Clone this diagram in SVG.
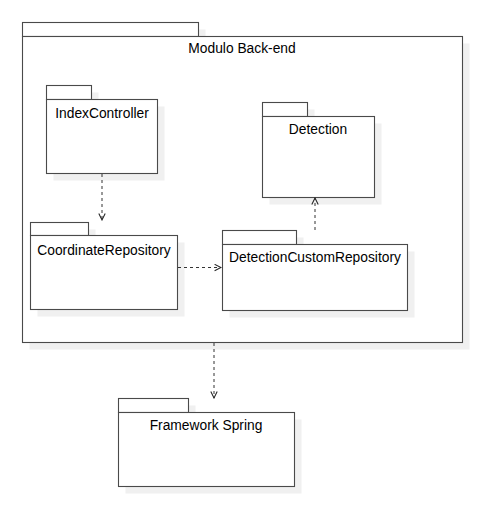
<svg xmlns="http://www.w3.org/2000/svg" width="494" height="512" viewBox="0 0 494 512">
<defs>
<marker id="open" viewBox="0 0 10 10" refX="9" refY="5" markerWidth="8" markerHeight="8" markerUnits="userSpaceOnUse" orient="auto">
<path d="M1,1 L9,5 L1,9" fill="none" stroke="#222" stroke-width="1.3"/>
</marker>
</defs>
<style>
.sh{fill:#f0f0f0;stroke:none}
.box{fill:#fff;stroke:#4a4a4a;stroke-width:1.1}
.t{font-family:"Liberation Sans",Arial,sans-serif;font-size:13.8px;fill:#000;text-anchor:middle}
.dep{fill:none;stroke:#333;stroke-width:1;stroke-dasharray:3 3;marker-end:url(#open)}
</style>
<rect width="494" height="512" fill="#fff"/>
<g id="modulo-backend">
<rect class="sh" x="29.5" y="29.5" width="176" height="14"/>
<rect class="sh" x="29.5" y="43.5" width="440" height="306"/>
<rect class="box" x="22.5" y="22.5" width="176" height="14"/>
<rect class="box" x="22.5" y="36.5" width="440" height="306"/>
<text class="t" x="242" y="53">Modulo Back-end</text>
</g>
<g id="index-controller">
<rect class="sh" x="53.5" y="92.5" width="45" height="14"/>
<rect class="sh" x="53.5" y="106.5" width="111" height="74"/>
<rect class="box" x="46.5" y="85.5" width="45" height="14"/>
<rect class="box" x="46.5" y="99.5" width="111" height="74"/>
<text class="t" x="102" y="118">IndexController</text>
</g>
<g id="detection">
<rect class="sh" x="269.5" y="109.5" width="45" height="14"/>
<rect class="sh" x="269.5" y="123.5" width="112" height="81"/>
<rect class="box" x="262.5" y="102.5" width="45" height="14"/>
<rect class="box" x="262.5" y="116.5" width="112" height="81"/>
<text class="t" x="318" y="134">Detection</text>
</g>
<g id="coordinate-repository">
<rect class="sh" x="37.5" y="229.5" width="58" height="14"/>
<rect class="sh" x="37.5" y="242.5" width="147" height="74"/>
<rect class="box" x="30.5" y="222.5" width="58" height="13"/>
<rect class="box" x="30.5" y="235.5" width="147" height="74"/>
<text class="t" x="104" y="255">CoordinateRepository</text>
</g>
<g id="detection-custom-repository">
<rect class="sh" x="229.5" y="237.5" width="74" height="14"/>
<rect class="sh" x="229.5" y="251.5" width="185" height="66"/>
<rect class="box" x="222.5" y="230.5" width="74" height="14"/>
<rect class="box" x="222.5" y="244.5" width="185" height="66"/>
<text class="t" x="315" y="262">DetectionCustomRepository</text>
</g>
<g id="framework-spring">
<rect class="sh" x="125.5" y="405.5" width="70" height="14"/>
<rect class="sh" x="125.5" y="419.5" width="176" height="74"/>
<rect class="box" x="118.5" y="398.5" width="70" height="14"/>
<rect class="box" x="118.5" y="412.5" width="176" height="74"/>
<text class="t" x="206" y="430">Framework Spring</text>
</g>
<g id="connectors">
<path class="dep" d="M102,174 L102,220"/>
<path class="dep" d="M178,267.5 L221,267.5"/>
<path class="dep" d="M315,230 L315,198"/>
<path class="dep" d="M214,343 L214,398"/>
</g>
</svg>
